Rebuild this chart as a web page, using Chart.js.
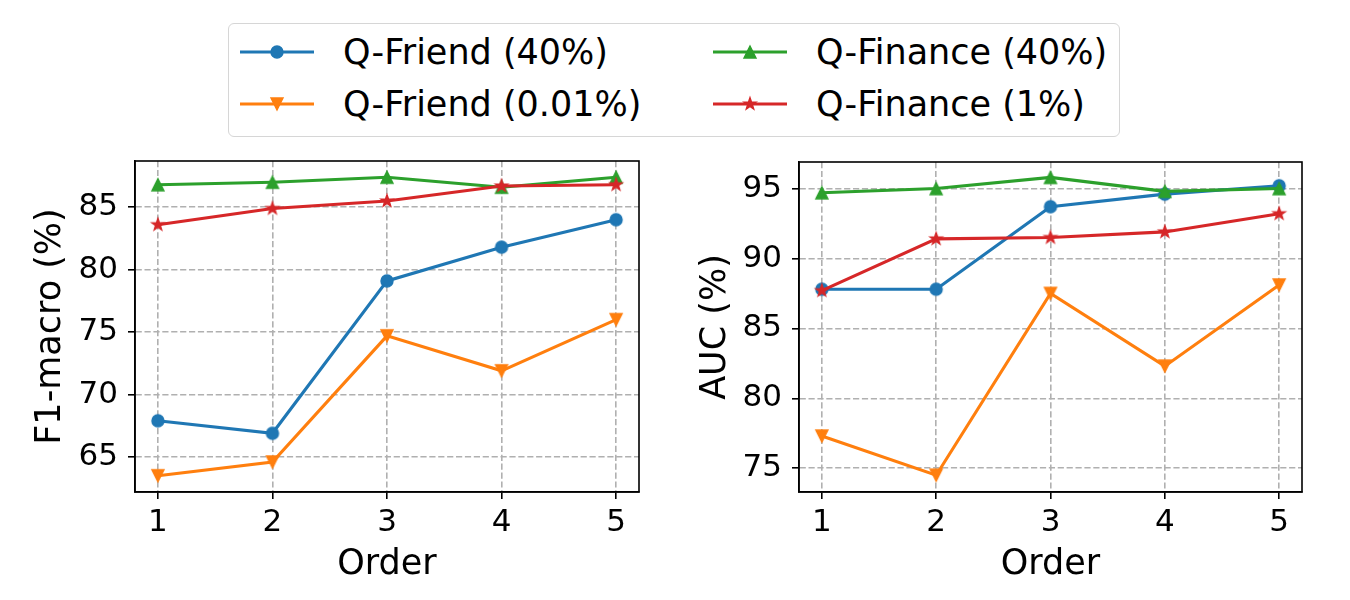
<!DOCTYPE html>
<html>
<head>
<meta charset="utf-8">
<script src="https://cdn.jsdelivr.net/npm/chart.js@4.4.1/dist/chart.umd.min.js"></script>
<style>
  body { margin: 0; background: #fff; font-family: 'DejaVu Sans', sans-serif; }
  #page { position: relative; width: 1350px; height: 600px; overflow: hidden; }
  .plot { position: absolute; top: 150px; }
  #legendBox { position: absolute; left: 228px; top: 23px; width: 890px; height: 112px;
    border: 1.6px solid #d6d6d6; border-radius: 6px; }
  .item { position: absolute; height: 40px; display: flex; align-items: center; }
  .item span { font-size: 35px; margin-left: 29px; line-height: 40px; color: #000; white-space: nowrap; }
</style>
</head>
<body>
<div id="page">
  <div id="legendBox"></div>
  <div id="legendItems"></div>
  <div class="plot" style="left:0px"><canvas id="f1Chart" width="660" height="450"></canvas></div>
  <div class="plot" style="left:660px"><canvas id="aucChart" width="690" height="450"></canvas></div>
</div>
<script>
// data
const orders = [1, 2, 3, 4, 5];
const seriesNames = ['Q-Friend (40%)', 'Q-Friend (0.01%)', 'Q-Finance (40%)', 'Q-Finance (1%)'];

const f1Friend40   = [67.9, 66.9, 79.1, 81.8, 84.0];
const f1Friend001  = [63.5, 64.6, 74.7, 71.9, 76.0];
const f1Finance40  = [86.8, 87.0, 87.4, 86.6, 87.4];
const f1Finance1   = [83.6, 84.9, 85.5, 86.7, 86.8];

const aucFriend40  = [87.8, 87.8, 93.7, 94.6, 95.2];
const aucFriend001 = [77.3, 74.5, 87.5, 82.3, 88.1];
const aucFinance40 = [94.7, 95.0, 95.8, 94.8, 95.0];
const aucFinance1  = [87.7, 91.4, 91.5, 91.9, 93.2];

const f1Ticks  = [65, 70, 75, 80, 85];
const aucTicks = [75, 80, 85, 90, 95];

const colors = ['#1f77b4', '#ff7f0e', '#2ca02c', '#d62728'];
const shapes = ['circle', 'down', 'up', 'star'];

// matplotlib-like markers drawn on small canvases
function makeMarker(shape, color) {
    const c = document.createElement('canvas');
    c.width = 22; c.height = 22;
    const g = c.getContext('2d');
    g.fillStyle = color;
    g.strokeStyle = color;
    g.lineWidth = 1.4;
    g.translate(11, 11);
    g.beginPath();
    const r = 6;
    if (shape === 'circle') {
        g.arc(0, 0, r, 0, Math.PI * 2);
    } else if (shape === 'up') {
        g.moveTo(0, -r); g.lineTo(r, r); g.lineTo(-r, r); g.closePath();
    } else if (shape === 'down') {
        g.moveTo(0, r); g.lineTo(r, -r); g.lineTo(-r, -r); g.closePath();
    } else {
        for (let i = 0; i < 10; i++) {
            const rad = i % 2 ? r * 0.42 : r * 1.05;
            const a = -Math.PI / 2 + i * Math.PI / 5;
            const x = Math.cos(a) * rad, y = Math.sin(a) * rad;
            if (i === 0) g.moveTo(x, y); else g.lineTo(x, y);
        }
        g.closePath();
    }
    g.fill();
    g.stroke();
    return c;
}

const markers = shapes.map((s, i) => makeMarker(s, colors[i]));

// legend (html)
const legendItems = document.getElementById('legendItems');
const legendPos = [[240, 52], [240, 104], [713, 52], [713, 104]];
seriesNames.forEach((name, i) => {
    const item = document.createElement('div');
    item.className = 'item';
    item.style.left = legendPos[i][0] + 'px';
    item.style.top = (legendPos[i][1] - 20) + 'px';
    const icon = document.createElement('canvas');
    icon.width = 74; icon.height = 22;
    const g = icon.getContext('2d');
    g.strokeStyle = colors[i];
    g.lineWidth = 3.1;
    g.beginPath(); g.moveTo(0, 11); g.lineTo(74, 11); g.stroke();
    g.drawImage(markers[i], 37 - 11, 0);
    const label = document.createElement('span');
    label.textContent = name;
    item.appendChild(icon);
    item.appendChild(label);
    legendItems.appendChild(item);
});

const frame = {
    id: 'frame',
    afterDraw(chart) {
        const { ctx, chartArea: a } = chart;
        ctx.save();
        ctx.strokeStyle = '#000';
        ctx.lineWidth = 1.6;
        ctx.strokeRect(a.left, a.top, a.right - a.left, a.bottom - a.top);
        ctx.restore();
    }
};

function buildChart(id, title, seriesList, yMin, yMax, yTicks, yWidth, titlePad, padTop, padRight) {
    const datasets = seriesList.map((vals, i) => ({
        label: seriesNames[i],
        data: orders.map((o, k) => ({ x: o, y: vals[k] })),
        borderColor: colors[i],
        backgroundColor: colors[i],
        borderWidth: 3.1,
        pointStyle: markers[i],
        pointRadius: 7,
        tension: 0,
        order: 3 - i
    }));
    return new Chart(document.getElementById(id), {
        type: 'line',
        data: { datasets },
        options: {
            responsive: false,
            animation: false,
            layout: { padding: { top: padTop, right: padRight, left: 0, bottom: 0 } },
            plugins: { legend: { display: false }, tooltip: { enabled: false } },
            scales: {
                x: {
                    type: 'linear',
                    min: 0.8,
                    max: 5.2,
                    afterBuildTicks: s => { s.ticks = orders.map(v => ({ value: v })); },
                    afterFit: s => { s.height = 108; s.paddingLeft = 0; s.paddingRight = 0; },
                    grid: { color: '#b0b0b0', lineWidth: 1.6, tickLength: 7, tickColor: '#000',
                            tickWidth: 1.6, tickBorderDash: [] },
                    border: { display: true, color: '#000', width: 1.6, dash: [6.2, 2.7] },
                    ticks: { color: '#000', padding: 5, font: { family: 'DejaVu Sans', size: 31 } },
                    title: { display: true, text: 'Order', color: '#000',
                             padding: { top: 0, bottom: 14 }, font: { family: 'DejaVu Sans', size: 35 } }
                },
                y: {
                    type: 'linear',
                    min: yMin,
                    max: yMax,
                    afterBuildTicks: s => { s.ticks = yTicks.map(v => ({ value: v })); },
                    afterFit: s => { s.width = yWidth; s.paddingTop = 0; s.paddingBottom = 0; },
                    grid: { color: '#b0b0b0', lineWidth: 1.6, tickLength: 7, tickColor: '#000',
                            tickWidth: 1.6, tickBorderDash: [] },
                    border: { display: true, color: '#000', width: 1.6, dash: [6.2, 2.7] },
                    ticks: { color: '#000', padding: 10, font: { family: 'DejaVu Sans', size: 31 } },
                    title: { display: true, text: title, color: '#000',
                             padding: { top: titlePad, bottom: 0 }, font: { family: 'DejaVu Sans', size: 35 } }
                }
            }
        },
        plugins: [frame]
    });
}

buildChart('f1Chart', 'F1-macro (%)', [f1Friend40, f1Friend001, f1Finance40, f1Finance1],
    62.2, 88.7, f1Ticks, 135, 30, 11, 21);
buildChart('aucChart', 'AUC (%)', [aucFriend40, aucFriend001, aucFinance40, aucFinance1],
    73.3, 96.9, aucTicks, 139, 35, 12, 48);
</script>
</body>
</html>
